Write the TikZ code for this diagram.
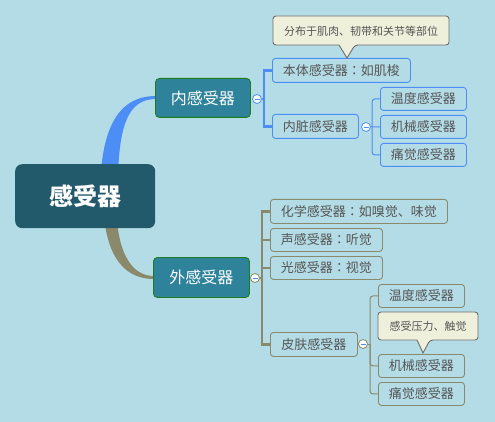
\documentclass[tikz,border=0pt]{standalone}
\usepackage{fontspec}
\newfontfamily\cjk{Noto Sans CJK SC}
\newfontfamily\cjktc{Noto Sans CJK TC}
\newcommand\fwcolon{{\cjktc ：}}
\definecolor{bg}{HTML}{B4DCE6}
\definecolor{rootc}{HTML}{235A6B}
\definecolor{midc}{HTML}{2E8299}
\definecolor{midb}{HTML}{1E7B1E}
\definecolor{bluec}{HTML}{4C8DF6}
\definecolor{olivec}{HTML}{8B896B}
\definecolor{txt}{HTML}{555555}
\definecolor{callf}{HTML}{EFF0DC}
\definecolor{callb}{HTML}{6E6E6E}
\begin{document}
\begin{tikzpicture}[x=1pt,y=-1pt,
  box/.style={draw, rounded corners=3pt, line width=0.9pt, anchor=north west, inner sep=0pt, text=txt, font=\cjk\fontsize{13}{13}\selectfont},
  bbox/.style={box, draw=bluec},
  obox/.style={box, draw=olivec},
  midbox/.style={draw=midb, fill=midc, rounded corners=4pt, line width=0.9pt, anchor=north west, inner sep=0pt, text=white, font=\cjk\fontsize{16}{16}\selectfont},
  rootbox/.style={fill=rootc, rounded corners=7pt, anchor=north west, inner sep=0pt, text=white, font=\cjk\bfseries\fontsize{24}{24}\selectfont},
  minusc/.style={circle, draw=#1, fill=white!92!bg, line width=0.8pt, minimum size=9pt, inner sep=0pt},
  calltext/.style={inner sep=0pt, text=txt, font=\cjk\fontsize{11}{11}\selectfont},
  callout/.style={draw=callb, fill=callf, line width=0.9pt, rounded corners=3pt}
]
\fill[bg] (0,0) rectangle (495,422);
\useasboundingbox (0,0) rectangle (495,422);

% main branches
\fill[bluec] (100,196) .. controls (100,125) and (120,96) .. (156,96)
  -- (156,99) .. controls (128,99) and (117,125) .. (118,196) -- cycle;
\fill[olivec] (103,200) .. controls (104,250) and (120,279) .. (154,279)
  -- (154,276) .. controls (130,276) and (116,250) .. (116,200) -- cycle;

% root
\node[rootbox, minimum width=140pt, minimum height=64pt] (root) at (15,164) {感受器};

% mid nodes
\node[midbox, minimum width=95pt, minimum height=39pt] (n1) at (155,78) {内感受器};
\node[midbox, minimum width=96pt, minimum height=40pt] (n2) at (153,257) {外感受器};

% inner children
\node[bbox, minimum width=138pt, minimum height=24pt] (b1) at (272,58) {本体感受器\fwcolon 如肌梭};
\node[bbox, minimum width=86pt, minimum height=24pt] (b2) at (272,114) {内脏感受器};
\node[bbox, minimum width=86pt, minimum height=23pt] (g1) at (380,87) {温度感受器};
\node[bbox, minimum width=86pt, minimum height=23pt] (g2) at (380,115) {机械感受器};
\node[bbox, minimum width=86pt, minimum height=23pt] (g3) at (380,143) {痛觉感受器};

% outer children
\node[obox, minimum width=177pt, minimum height=24pt] (o1) at (270,199) {化学感受器\fwcolon 如嗅觉、味觉};
\node[obox, minimum width=112pt, minimum height=23pt] (o2) at (270,228) {声感受器\fwcolon 听觉};
\node[obox, minimum width=112pt, minimum height=23pt] (o3) at (270,256) {光感受器\fwcolon 视觉};
\node[obox, minimum width=87pt, minimum height=24pt] (o4) at (270,332) {皮肤感受器};
\node[obox, minimum width=86pt, minimum height=23pt] (h1) at (378,284) {温度感受器};
\node[obox, minimum width=86pt, minimum height=23pt] (h2) at (378,354) {机械感受器};
\node[obox, minimum width=86pt, minimum height=23pt] (h3) at (378,382) {痛觉感受器};

% junction coordinates
\coordinate (v1) at (264,99);
\coordinate (v2) at (372,127);
\coordinate (v3) at (262,278);
\coordinate (v4) at (370,344);

% connectors
\draw[bluec, line width=2.2pt] (v1) |- (b1.west);
\draw[bluec, line width=2.2pt] (v1) |- (b2.west);
\draw[bluec, line width=1pt, rounded corners=3pt] (v2) |- (g1.west);
\draw[bluec, line width=1pt] (v2) -- (g2.west);
\draw[bluec, line width=1pt, rounded corners=3pt] (v2) |- (g3.west);

\draw[olivec, line width=2.2pt] (v3) |- (o1.west);
\draw[olivec, line width=2.2pt] (v3) |- (o2.west);
\draw[olivec, line width=2.2pt] (v3) |- (o3.west);
\draw[olivec, line width=2.2pt] (v3) |- (o4.west);
\draw[olivec, line width=1pt, rounded corners=3pt] (v4) |- (h1.west);
\draw[olivec, line width=1pt, rounded corners=3pt] (v4) |- (h2.west);
\draw[olivec, line width=1pt, rounded corners=3pt] (v4) |- (h3.west);

% minus circles
\node[minusc=bluec] (c1) at (257,99) {};
\node[minusc=bluec] (c2) at (366,127) {};
\node[minusc=olivec] (c3) at (255,278) {};
\node[minusc=olivec] (c4) at (363,344) {};
\draw[bluec, line width=2.2pt] (c1.east) -- (v1);
\draw[bluec, line width=1pt] (c2.east) -- (v2);
\draw[olivec, line width=2.2pt] (c3.east) -- (v3);
\draw[olivec, line width=1pt] (c4.east) -- (v4);
\foreach \c in {c1,c2,c3,c4}{
  \draw[bluec, line width=0.9pt] ([xshift=-2.5pt]\c.center) -- ([xshift=2.5pt]\c.center);
}

% callouts
\draw[callout] (273,16) -- (449,16) -- (449,45) -- (355,45) [sharp corners] -- (347,58) -- (339,45) [rounded corners=3pt] -- (273,45) -- cycle;
\node[calltext] (t1) at (361,31) {分布于肌肉、韧带和关节等部位};
\draw[callout] (378,312) -- (478,312) -- (478,340) -- (430,340) [sharp corners] -- (423,353) -- (417,340) [rounded corners=3pt] -- (378,340) -- cycle;
\node[calltext] (t2) at (428,326) {感受压力、触觉};
\end{tikzpicture}
\end{document}
